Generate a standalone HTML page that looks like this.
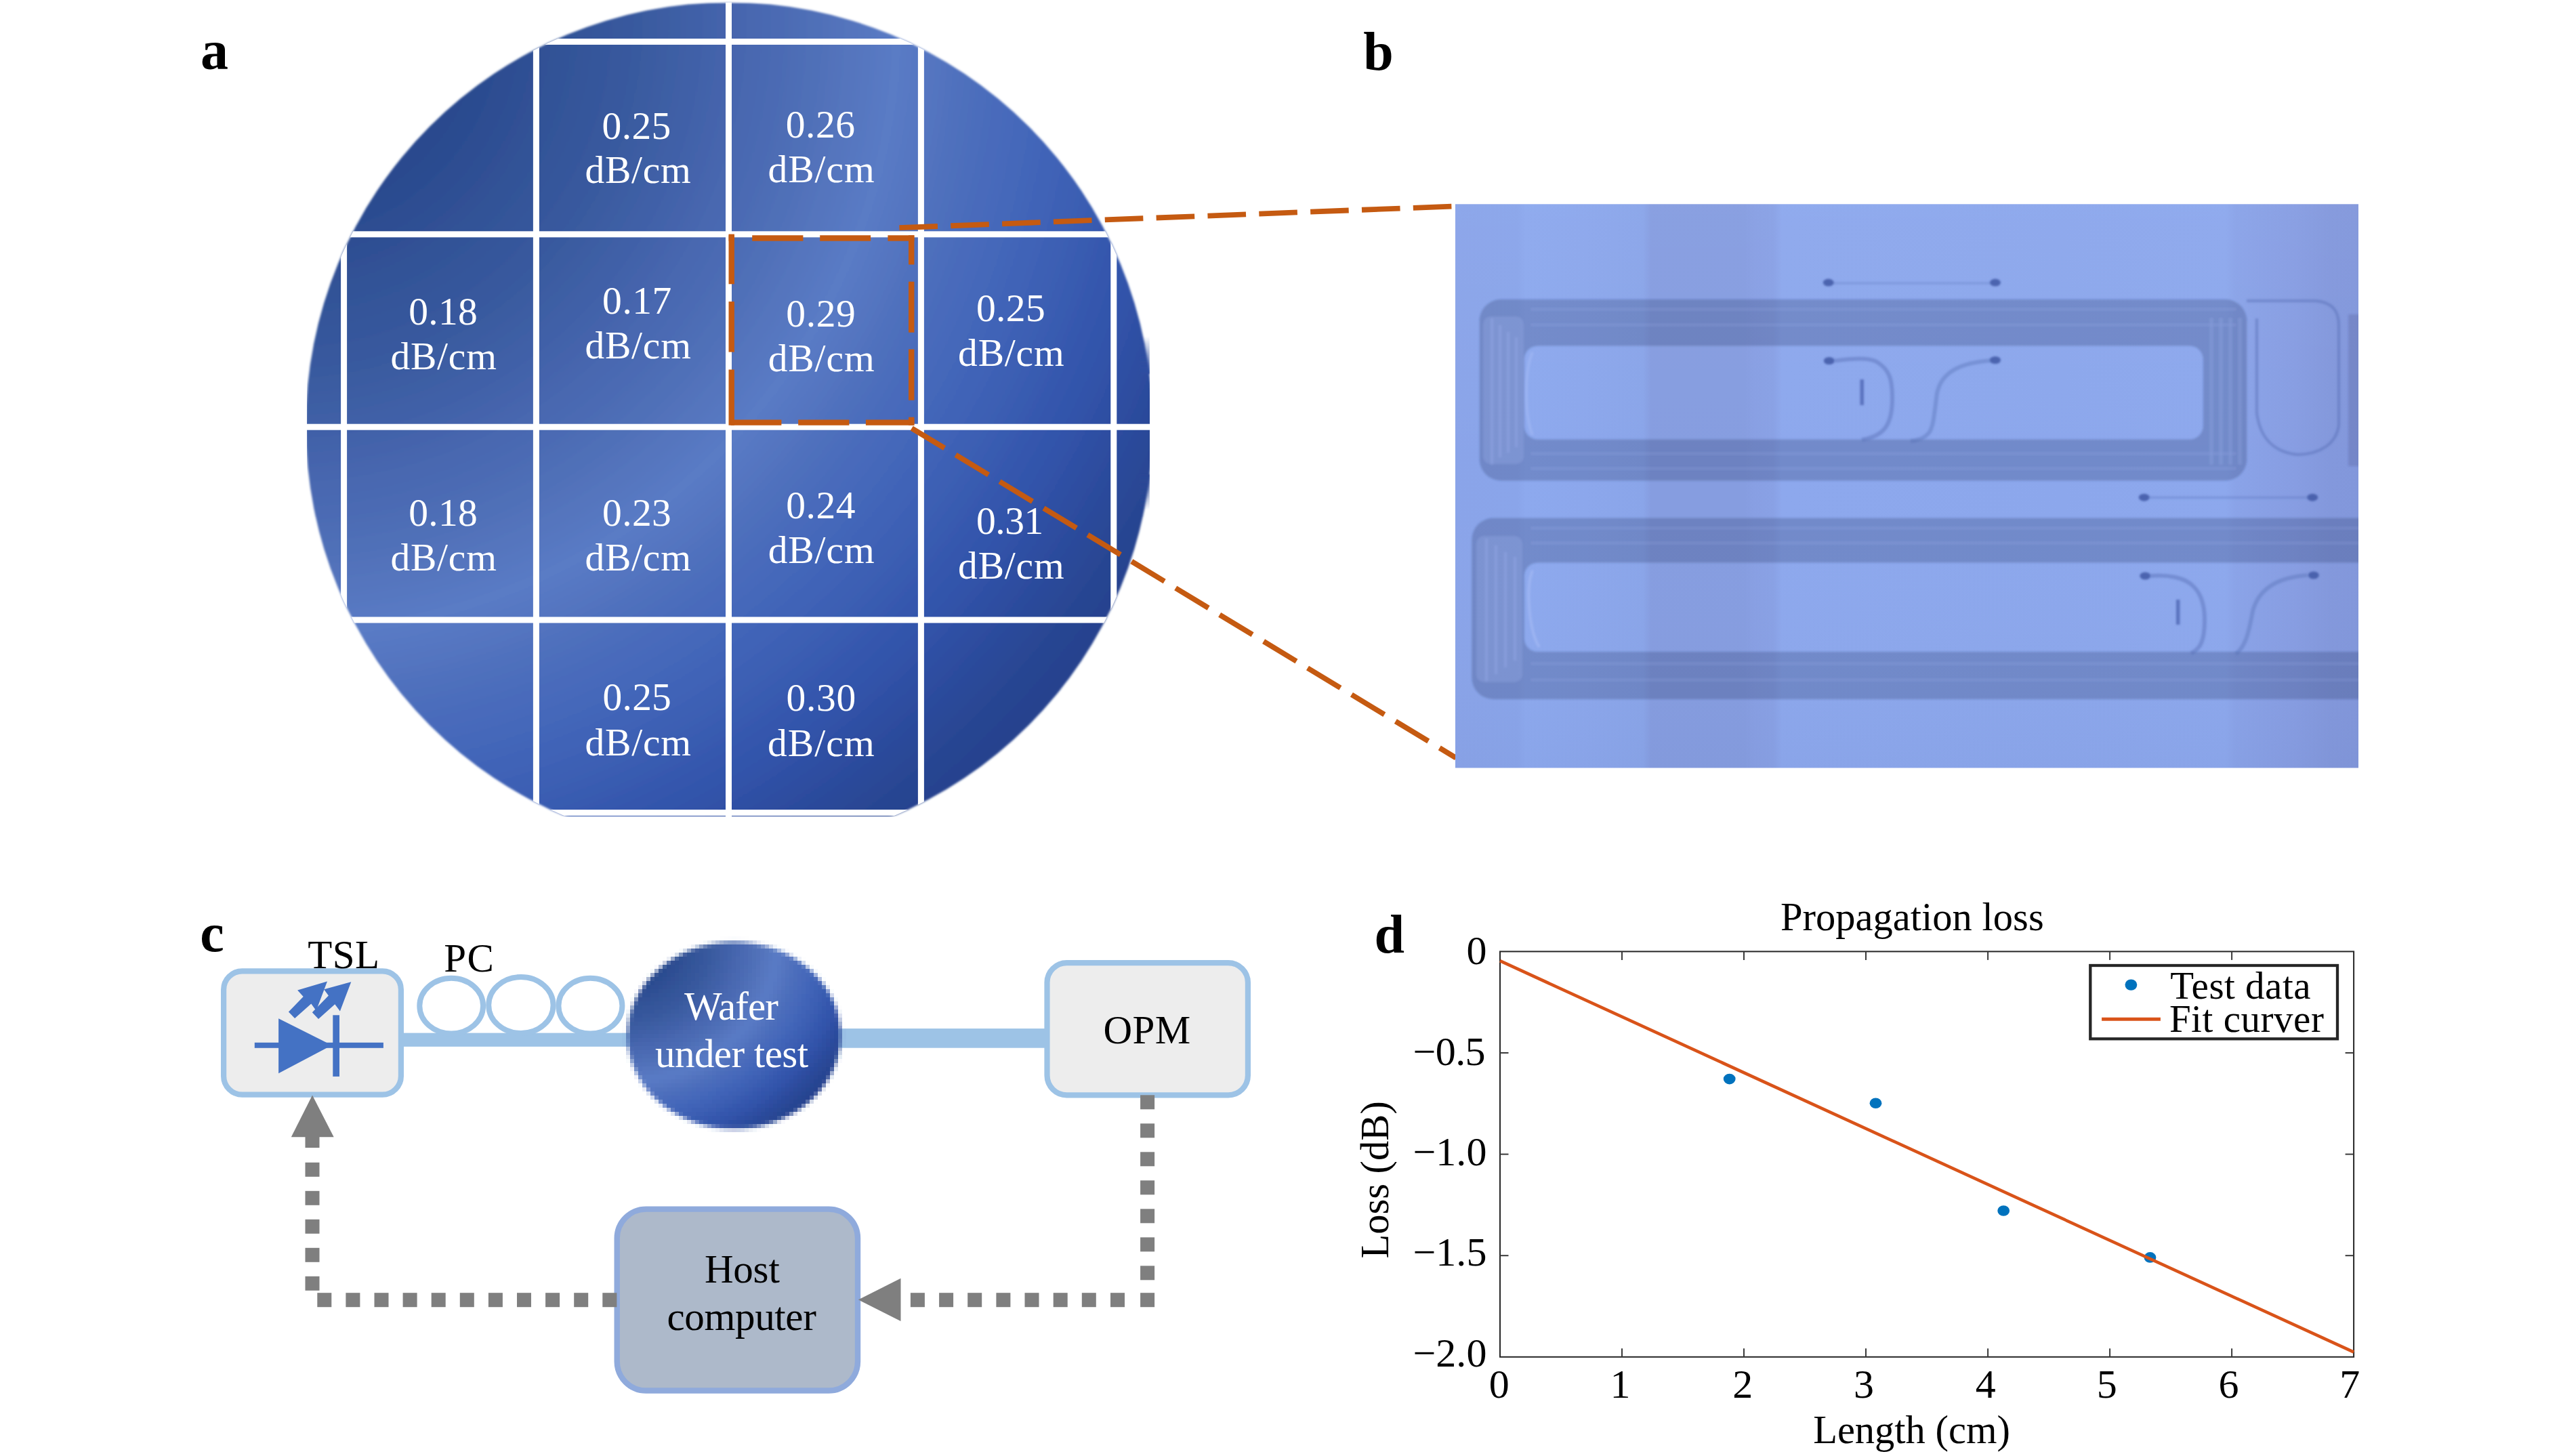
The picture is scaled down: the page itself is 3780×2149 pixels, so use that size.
<!DOCTYPE html>
<html><head><meta charset="utf-8"><title>Figure</title>
<style>
html,body{margin:0;padding:0;background:#fff;}
body{width:3780px;height:2149px;overflow:hidden;position:relative;font-family:"Liberation Serif", serif;}
svg{position:absolute;left:0;top:0;display:block;}
text{font-family:"Liberation Serif", serif;font-kerning:normal;font-variant-ligatures:none;white-space:pre;}
</style></head><body>
<svg width="3780" height="2149" viewBox="0 0 3780 2149">
<defs>
<clipPath id="wclip"><rect x="453" y="0" width="1244" height="1205"/></clipPath>
<clipPath id="wcirc"><circle cx="1076.3" cy="628.5" r="625"/></clipPath>
<radialGradient id="wg" gradientUnits="userSpaceOnUse" cx="420" cy="30" r="1500">
<stop offset="0" stop-color="#27468a"/>
<stop offset="0.19" stop-color="#2a4a8e"/>
<stop offset="0.35" stop-color="#395a9f"/>
<stop offset="0.46" stop-color="#4867b0"/>
<stop offset="0.527" stop-color="#5070b8"/>
<stop offset="0.603" stop-color="#5a7bc5"/>
<stop offset="0.673" stop-color="#4e6fbc"/>
<stop offset="0.727" stop-color="#4568ba"/>
<stop offset="0.773" stop-color="#3f62b6"/>
<stop offset="0.867" stop-color="#3153aa"/>
<stop offset="0.967" stop-color="#284592"/>
<stop offset="1" stop-color="#26428e"/>
</radialGradient>
<radialGradient id="swg" gradientUnits="userSpaceOnUse" cx="420" cy="30" r="1500" gradientTransform="translate(1083.5,1528.2) scale(0.2529,0.223) translate(-1076.5,-629)">
<stop offset="0" stop-color="#27468a"/>
<stop offset="0.19" stop-color="#2a4a8e"/>
<stop offset="0.35" stop-color="#395a9f"/>
<stop offset="0.46" stop-color="#4867b0"/>
<stop offset="0.527" stop-color="#5070b8"/>
<stop offset="0.603" stop-color="#5a7bc5"/>
<stop offset="0.673" stop-color="#4e6fbc"/>
<stop offset="0.727" stop-color="#4568ba"/>
<stop offset="0.773" stop-color="#3f62b6"/>
<stop offset="0.867" stop-color="#3153aa"/>
<stop offset="0.967" stop-color="#284592"/>
<stop offset="1" stop-color="#26428e"/>
</radialGradient>
<filter id="pix" filterUnits="userSpaceOnUse" x="900" y="1370" width="372" height="318" primitiveUnits="userSpaceOnUse" color-interpolation-filters="sRGB">
<feFlood x="903" y="1373" width="1" height="1" flood-color="#000"/>
<feComposite width="6" height="6" x="900" y="1370"/>
<feTile result="grid"/>
<feComposite in="SourceGraphic" in2="grid" operator="in"/>
<feMorphology operator="dilate" radius="3"/>
<feGaussianBlur stdDeviation="0.7"/>
</filter>
<filter id="blur1" x="-5%" y="-5%" width="110%" height="110%"><feGaussianBlur stdDeviation="1.1"/></filter>
<filter id="blur2" x="-5%" y="-5%" width="110%" height="110%"><feGaussianBlur stdDeviation="1.6"/></filter>
<filter id="blur3" x="-5%" y="-5%" width="110%" height="110%"><feGaussianBlur stdDeviation="2.5"/></filter>
<filter id="blur6" x="-5%" y="-5%" width="110%" height="110%"><feGaussianBlur stdDeviation="5"/></filter>
<linearGradient id="bg_b" gradientUnits="userSpaceOnUse" x1="2148" y1="0" x2="3481" y2="0">
<stop offset="0" stop-color="#8ba6ec"/>
<stop offset="0.2" stop-color="#8aa5e9"/>
<stop offset="0.36" stop-color="#859fe0"/>
<stop offset="0.5" stop-color="#869fe0"/>
<stop offset="0.56" stop-color="#8ba8ee"/>
<stop offset="0.85" stop-color="#8da9ef"/>
<stop offset="0.93" stop-color="#87a1e3"/>
<stop offset="1" stop-color="#8ba4e8"/>
</linearGradient>
</defs>

<!-- panel a -->
<text x="296.10" y="102.10" font-size="82" fill="#000" letter-spacing="0.000" font-weight="bold">a</text>
<g clip-path="url(#wclip)">
<circle cx="1076.3" cy="628.5" r="625" fill="url(#wg)" filter="url(#blur2)"/>
<g clip-path="url(#wcirc)">
<rect x="503.1" y="341.3" width="9" height="578.2" fill="#fff"/>
<rect x="786.9" y="57.0" width="9" height="1147.0" fill="#fff"/>
<rect x="1071.0" y="0" width="9" height="1205" fill="#fff"/>
<rect x="1354.9" y="57.0" width="9" height="1147.0" fill="#fff"/>
<rect x="1639.3" y="341.3" width="9" height="578.2" fill="#fff"/>
<rect x="791.4" y="57.0" width="568.0000000000001" height="9" fill="#fff"/>
<rect x="507.6" y="341.3" width="1136.1999999999998" height="9" fill="#fff"/>
<rect x="453" y="625.7" width="1244" height="9" fill="#fff"/>
<rect x="507.6" y="910.5" width="1136.1999999999998" height="9" fill="#fff"/>
<rect x="791.4" y="1195.0" width="568.0000000000001" height="9" fill="#fff"/>
</g>
<linearGradient id="smr" x1="0" y1="0" x2="0" y2="1"><stop offset="0" stop-color="#2e4da1" stop-opacity="0"/><stop offset="1" stop-color="#2e4da1" stop-opacity="1"/></linearGradient>
<linearGradient id="smr2" x1="0" y1="0" x2="0" y2="1"><stop offset="0" stop-color="#2a4896" stop-opacity="1"/><stop offset="1" stop-color="#2a4896" stop-opacity="0"/></linearGradient>
<linearGradient id="topf" x1="0" y1="0" x2="0" y2="1"><stop offset="0" stop-color="#fff" stop-opacity="0.85"/><stop offset="1" stop-color="#fff" stop-opacity="0"/></linearGradient>
<rect x="990" y="0" width="175" height="6" fill="url(#topf)"/>
<rect x="1682" y="497" width="15" height="55" fill="url(#smr)" filter="url(#blur1)"/>
<rect x="1682" y="700" width="15" height="52" fill="url(#smr2)" filter="url(#blur1)"/>
</g>
<text x="888.60" y="204.70" font-size="57.5" fill="#fff" letter-spacing="0.375">0.25</text>
<text x="863.50" y="270.40" font-size="57.5" fill="#fff" letter-spacing="0.700">dB/cm</text>
<text x="1159.70" y="203.20" font-size="57.5" fill="#fff" letter-spacing="0.575">0.26</text>
<text x="1133.60" y="269.30" font-size="57.5" fill="#fff" letter-spacing="0.950">dB/cm</text>
<text x="603.20" y="479.00" font-size="57.5" fill="#fff" letter-spacing="0.342">0.18</text>
<text x="576.40" y="544.70" font-size="57.5" fill="#fff" letter-spacing="0.800">dB/cm</text>
<text x="889.10" y="463.30" font-size="57.5" fill="#fff" letter-spacing="0.542">0.17</text>
<text x="863.40" y="529.00" font-size="57.5" fill="#fff" letter-spacing="0.800">dB/cm</text>
<text x="1160.30" y="481.80" font-size="57.5" fill="#fff" letter-spacing="0.608">0.29</text>
<text x="1133.70" y="547.70" font-size="57.5" fill="#fff" letter-spacing="0.900">dB/cm</text>
<text x="1441.00" y="473.60" font-size="57.5" fill="#fff" letter-spacing="0.342">0.25</text>
<text x="1414.10" y="540.00" font-size="57.5" fill="#fff" letter-spacing="0.800">dB/cm</text>
<text x="603.20" y="775.50" font-size="57.5" fill="#fff" letter-spacing="0.342">0.18</text>
<text x="576.40" y="841.60" font-size="57.5" fill="#fff" letter-spacing="0.800">dB/cm</text>
<text x="889.10" y="775.50" font-size="57.5" fill="#fff" letter-spacing="0.342">0.23</text>
<text x="863.40" y="841.60" font-size="57.5" fill="#fff" letter-spacing="0.800">dB/cm</text>
<text x="1160.30" y="765.40" font-size="57.5" fill="#fff" letter-spacing="0.508">0.24</text>
<text x="1133.70" y="831.30" font-size="57.5" fill="#fff" letter-spacing="0.900">dB/cm</text>
<text x="1441.00" y="788.40" font-size="57.5" fill="#fff" letter-spacing="-0.425">0.31</text>
<text x="1414.10" y="854.10" font-size="57.5" fill="#fff" letter-spacing="0.800">dB/cm</text>
<text x="889.60" y="1048.00" font-size="57.5" fill="#fff" letter-spacing="0.208">0.25</text>
<text x="863.50" y="1114.60" font-size="57.5" fill="#fff" letter-spacing="0.800">dB/cm</text>
<text x="1160.50" y="1048.90" font-size="57.5" fill="#fff" letter-spacing="0.708">0.30</text>
<text x="1132.90" y="1116.00" font-size="57.5" fill="#fff" letter-spacing="1.100">dB/cm</text>
<line x1="1079.7" y1="345.6" x2="1079.7" y2="419.3" stroke="#c55a11" stroke-width="8.4"/>
<line x1="1079.7" y1="445.1" x2="1079.7" y2="519.6" stroke="#c55a11" stroke-width="8.4"/>
<line x1="1079.7" y1="545.5" x2="1079.7" y2="627.7" stroke="#c55a11" stroke-width="8.4"/>
<line x1="1075.6" y1="351.5" x2="1084.0" y2="351.5" stroke="#c55a11" stroke-width="8.4"/>
<line x1="1110.2" y1="351.5" x2="1185.4" y2="351.5" stroke="#c55a11" stroke-width="8.4"/>
<line x1="1210.2" y1="351.5" x2="1285.1" y2="351.5" stroke="#c55a11" stroke-width="8.4"/>
<line x1="1310.4" y1="351.5" x2="1349.4" y2="351.5" stroke="#c55a11" stroke-width="8.4"/>
<line x1="1345.2" y1="347.3" x2="1345.2" y2="390.5" stroke="#c55a11" stroke-width="8.4"/>
<line x1="1345.2" y1="415.7" x2="1345.2" y2="490.7" stroke="#c55a11" stroke-width="8.4"/>
<line x1="1345.2" y1="515.5" x2="1345.2" y2="590.7" stroke="#c55a11" stroke-width="8.4"/>
<line x1="1345.2" y1="615.7" x2="1345.2" y2="627.7" stroke="#c55a11" stroke-width="8.4"/>
<line x1="1078.5" y1="623.6" x2="1153.4" y2="623.6" stroke="#c55a11" stroke-width="8.4"/>
<line x1="1178.2" y1="623.6" x2="1253.4" y2="623.6" stroke="#c55a11" stroke-width="8.4"/>
<line x1="1277.9" y1="623.6" x2="1349.4" y2="623.6" stroke="#c55a11" stroke-width="8.4"/>
<line x1="1327.4" y1="336.2" x2="2146" y2="304.5" stroke="#c55a11" stroke-width="7.8" stroke-dasharray="56.6 19.3"/>
<line x1="1345.7" y1="632.1" x2="2149" y2="1118.6" stroke="#c55a11" stroke-width="7.8" stroke-dasharray="56.6 19.3"/>
<!-- panel b -->
<text x="2012.30" y="102.70" font-size="80" fill="#000" letter-spacing="0.000" font-weight="bold">b</text>
<clipPath id="bclip"><rect x="2148.0" y="301.3" width="1333.0" height="832.1000000000001"/></clipPath>
<linearGradient id="bgb2" gradientUnits="userSpaceOnUse" x1="2148" y1="0" x2="3481" y2="0"><stop offset="0.0000" stop-color="#8aa4e9"/><stop offset="0.0690" stop-color="#8aa5ea"/><stop offset="0.0780" stop-color="#8da9ee"/><stop offset="0.1440" stop-color="#8ca7ec"/><stop offset="0.2078" stop-color="#8aa5e9"/><stop offset="0.2168" stop-color="#869de0"/><stop offset="0.3203" stop-color="#869de0"/><stop offset="0.3301" stop-color="#889fe3"/><stop offset="0.3526" stop-color="#89a1e5"/><stop offset="0.3616" stop-color="#8da8ed"/><stop offset="0.6692" stop-color="#8ca7ec"/><stop offset="0.8530" stop-color="#8da8ed"/><stop offset="0.8642" stop-color="#8aa3e8"/><stop offset="0.9302" stop-color="#879de2"/><stop offset="0.9692" stop-color="#8398dc"/><stop offset="1.0000" stop-color="#8297db"/></linearGradient>
<linearGradient id="bgv" x1="0" y1="0" x2="0" y2="1"><stop offset="0" stop-color="#fff" stop-opacity="0.03"/><stop offset="0.5" stop-color="#fff" stop-opacity="0"/><stop offset="1" stop-color="#203060" stop-opacity="0.03"/></linearGradient>
<rect x="2148.0" y="301.3" width="1333.0" height="832.1000000000001" fill="url(#bgb2)"/>
<rect x="2148.0" y="301.3" width="1333.0" height="832.1000000000001" fill="url(#bgv)"/>
<g clip-path="url(#bclip)">
<g filter="url(#blur2)">
<path fill="rgba(38,48,100,0.25)" fill-rule="evenodd" d="M2215.6,441.7 H3284.4 A32,32 0 0 1 3316.4,473.7 V677.5 A32,32 0 0 1 3284.4,709.5 H2215.6 A32,32 0 0 1 2183.6,677.5 V473.7 A32,32 0 0 1 2215.6,441.7 Z M2269.7,510.5 H3231.8 A20,20 0 0 1 3251.8,530.5 V628.5 A20,20 0 0 1 3231.8,648.5 H2269.7 A20,20 0 0 1 2249.7,628.5 V530.5 A20,20 0 0 1 2269.7,510.5 Z "/>
<path fill="rgba(38,48,100,0.25)" fill-rule="evenodd" d="M2204.3,764.5 H3568 A32,32 0 0 1 3600,796.5 V1000.0 A32,32 0 0 1 3568,1032.0 H2204.3 A32,32 0 0 1 2172.3,1000.0 V796.5 A32,32 0 0 1 2204.3,764.5 Z M2269.7,830.5 H3580 A20,20 0 0 1 3600,850.5 V942 A20,20 0 0 1 3580,962 H2269.7 A20,20 0 0 1 2249.7,942 V850.5 A20,20 0 0 1 2269.7,830.5 Z "/>
<rect x="2190" y="468" width="58" height="216" rx="10" fill="#a9c0f6" opacity="0.22"/>
<rect x="2180" y="792" width="66" height="214" rx="10" fill="#a9c0f6" opacity="0.22"/>
<rect x="2200" y="470" width="4" height="215" fill="#9db4f0" opacity="0.30"/>
<rect x="2212" y="480" width="4" height="195" fill="#9db4f0" opacity="0.30"/>
<rect x="2224" y="490" width="4" height="178" fill="#9db4f0" opacity="0.30"/>
<rect x="2236" y="498" width="4" height="162" fill="#9db4f0" opacity="0.30"/>
<rect x="2192" y="795" width="4" height="210" fill="#9db4f0" opacity="0.30"/>
<rect x="2206" y="805" width="4" height="190" fill="#9db4f0" opacity="0.30"/>
<rect x="2220" y="815" width="4" height="170" fill="#9db4f0" opacity="0.30"/>
<rect x="2234" y="822" width="4" height="153" fill="#9db4f0" opacity="0.30"/>
<rect x="3262" y="470" width="4" height="215" fill="#9db4f0" opacity="0.22"/>
<rect x="3276" y="470" width="4" height="215" fill="#9db4f0" opacity="0.22"/>
<rect x="3290" y="470" width="4" height="215" fill="#9db4f0" opacity="0.22"/>
<rect x="3304" y="470" width="4" height="215" fill="#9db4f0" opacity="0.22"/>
<rect x="2260" y="455" width="1040" height="3" fill="#9db4f0" opacity="0.16"/>
<rect x="2260" y="478" width="1040" height="3" fill="#9db4f0" opacity="0.16"/>
<rect x="2260" y="668" width="1040" height="3" fill="#9db4f0" opacity="0.16"/>
<rect x="2260" y="690" width="1040" height="3" fill="#9db4f0" opacity="0.16"/>
<rect x="2260" y="778" width="1240" height="3" fill="#9db4f0" opacity="0.16"/>
<rect x="2260" y="800" width="1240" height="3" fill="#9db4f0" opacity="0.16"/>
<rect x="2260" y="978" width="1240" height="3" fill="#9db4f0" opacity="0.16"/>
<rect x="2260" y="1002" width="1240" height="3" fill="#9db4f0" opacity="0.16"/>
<rect x="3466" y="464" width="20" height="224" fill="rgba(38,48,100,0.16)"/>
</g>
<g filter="url(#blur2)" fill="none" stroke="#5068b0" stroke-opacity="0.42" stroke-width="6">
<path d="M2262,520 C2250,545 2250,615 2262,642" stroke="#a4baf4" stroke-opacity="0.55" stroke-width="4"/>
<path d="M2262,842 C2252,865 2256,930 2272,955" stroke="#a4baf4" stroke-opacity="0.65" stroke-width="4"/>
<path d="M3316,444 H3418 C3442,446 3452,458 3452,480 V628 C3448,655 3425,670 3392,671 C3358,668 3336,648 3331,610 V470" stroke-opacity="0.42" stroke-width="4.5"/>
<path d="M2704,418 H2940" stroke-opacity="0.22" stroke-width="4"/>
<path d="M2708,532.5 C2740,528 2760,528 2770,534 C2790,546 2793,562 2793,588 C2793,628 2780,644 2748,649"/>
<path d="M2940,532 C2895,535 2866,548 2859,580 C2855,610 2854,632 2846,640 C2840,647 2832,650 2820,651" stroke-opacity="0.36"/>
<path d="M2748.2,560 V598" stroke="#4a62b0" stroke-opacity="0.75" stroke-width="5.5"/>
<path d="M3172,734.2 H3406" stroke-opacity="0.26" stroke-width="4"/>
<path d="M3174,850 C3200,848 3225,852 3238,866 C3252,880 3254,900 3254,915 C3254,945 3248,958 3234,964"/>
<path d="M3406,849 C3362,852 3334,868 3325,902 C3319,935 3314,955 3300,965" stroke-opacity="0.36"/>
<path d="M3214.7,885 V922" stroke="#4a62b0" stroke-opacity="0.75" stroke-width="5.5"/>
</g>
<g filter="url(#blur2)" fill="#4058a4" fill-opacity="0.85">
<ellipse cx="2698.7" cy="417.1" rx="8" ry="5.5"/>
<ellipse cx="2945" cy="417.1" rx="8" ry="5.5"/>
<ellipse cx="2699.8" cy="532.5" rx="8" ry="5.5"/>
<ellipse cx="2945" cy="531.5" rx="8" ry="5.5"/>
<ellipse cx="3164.7" cy="734.2" rx="8" ry="5.5"/>
<ellipse cx="3413.2" cy="734.2" rx="8" ry="5.5"/>
<ellipse cx="3166.3" cy="850" rx="8" ry="5.5"/>
<ellipse cx="3414.8" cy="849" rx="8" ry="5.5"/>
</g>
</g>
<!-- panel c -->
<text x="295.20" y="1404.00" font-size="80" fill="#000" letter-spacing="0.000" font-weight="bold">c</text>
<rect x="592" y="1524.6" width="345" height="20.2" fill="#9dc3e6"/>
<rect x="1230" y="1518.1" width="316" height="28.6" fill="#9dc3e6"/>
<ellipse cx="666.2" cy="1484.6" rx="46.9" ry="40.9" fill="#fff" stroke="#9dc3e6" stroke-width="8"/>
<ellipse cx="768.9" cy="1483.5" rx="47.7" ry="41.5" fill="#fff" stroke="#9dc3e6" stroke-width="8"/>
<ellipse cx="871.4" cy="1484.6" rx="47.0" ry="40.9" fill="#fff" stroke="#9dc3e6" stroke-width="8"/>
<rect x="330.1" y="1433.4" width="261.8" height="182.2" rx="27.4" ry="27.4" fill="#ededed" stroke="#9dc3e6" stroke-width="8.2"/>
<rect x="1545.5" y="1421.1" width="296.4" height="195.2" rx="29" ry="29" fill="#ededed" stroke="#9dc3e6" stroke-width="8.2"/>
<rect x="910.7" y="1784.6" width="355.3" height="267.9" rx="43" ry="43" fill="#adb9ca" stroke="#8faadc" stroke-width="8.4"/>
<g filter="url(#pix)"><ellipse cx="1083.5" cy="1528.2" rx="157.0" ry="137.6" fill="url(#swg)" filter="url(#blur3)"/></g>
<rect x="375.8" y="1538.8" width="190.1" height="8" fill="#4472c4"/>
<polygon points="411.1,1503.2 411.1,1584.2 489.8,1542.8" fill="#4472c4"/>
<rect x="491.3" y="1498.3" width="9.7" height="90.6" fill="#4472c4"/>
<polygon points="425.9,1493.4 447.7,1471.0 439.1,1461.5 483.0,1448.5 466.7,1491.8 459.3,1481.5 435.1,1503.0" fill="#4472c4"/>
<polygon points="460.8,1494.3 484.9,1469.4 478.1,1460.3 518.3,1449.2 501.9,1492.4 494.3,1482.2 470.0,1503.9" fill="#4472c4"/>
<polygon points="461,1616.5 429.8,1678.3 492.7,1678.3" fill="#7f7f7f"/>
<rect x="450.5" y="1678" width="21.0" height="16" fill="#7f7f7f"/>
<rect x="450.5" y="1715.8" width="21.0" height="21.0" fill="#7f7f7f"/>
<rect x="450.5" y="1757.8" width="21.0" height="21.0" fill="#7f7f7f"/>
<rect x="450.5" y="1799.8" width="21.0" height="21.0" fill="#7f7f7f"/>
<rect x="450.5" y="1841.8" width="21.0" height="21.0" fill="#7f7f7f"/>
<rect x="450.5" y="1883.8" width="21.0" height="21.0" fill="#7f7f7f"/>
<rect x="468.3" y="1908.2" width="21.0" height="21.0" fill="#7f7f7f"/>
<rect x="510.4" y="1908.2" width="21.0" height="21.0" fill="#7f7f7f"/>
<rect x="552.5" y="1908.2" width="21.0" height="21.0" fill="#7f7f7f"/>
<rect x="594.6" y="1908.2" width="21.0" height="21.0" fill="#7f7f7f"/>
<rect x="636.7" y="1908.2" width="21.0" height="21.0" fill="#7f7f7f"/>
<rect x="678.8" y="1908.2" width="21.0" height="21.0" fill="#7f7f7f"/>
<rect x="720.9" y="1908.2" width="21.0" height="21.0" fill="#7f7f7f"/>
<rect x="763.0" y="1908.2" width="21.0" height="21.0" fill="#7f7f7f"/>
<rect x="805.1" y="1908.2" width="21.0" height="21.0" fill="#7f7f7f"/>
<rect x="847.2" y="1908.2" width="21.0" height="21.0" fill="#7f7f7f"/>
<rect x="889.3" y="1908.2" width="21.1" height="21.0" fill="#7f7f7f"/>
<rect x="1683.1" y="1616.3" width="21.0" height="21.0" fill="#7f7f7f"/>
<rect x="1683.1" y="1658.3" width="21.0" height="21.0" fill="#7f7f7f"/>
<rect x="1683.1" y="1700.3" width="21.0" height="21.0" fill="#7f7f7f"/>
<rect x="1683.1" y="1742.3" width="21.0" height="21.0" fill="#7f7f7f"/>
<rect x="1683.1" y="1784.3" width="21.0" height="21.0" fill="#7f7f7f"/>
<rect x="1683.1" y="1826.3" width="21.0" height="21.0" fill="#7f7f7f"/>
<rect x="1683.1" y="1868.3" width="21.0" height="21.0" fill="#7f7f7f"/>
<rect x="1683.1" y="1908.2" width="21.0" height="21.0" fill="#7f7f7f"/>
<rect x="1343.9" y="1908.2" width="21.0" height="21.0" fill="#7f7f7f"/>
<rect x="1386.1" y="1908.2" width="21.0" height="21.0" fill="#7f7f7f"/>
<rect x="1428.2" y="1908.2" width="21.0" height="21.0" fill="#7f7f7f"/>
<rect x="1470.4" y="1908.2" width="21.0" height="21.0" fill="#7f7f7f"/>
<rect x="1512.5" y="1908.2" width="21.0" height="21.0" fill="#7f7f7f"/>
<rect x="1554.7" y="1908.2" width="21.0" height="21.0" fill="#7f7f7f"/>
<rect x="1596.8" y="1908.2" width="21.0" height="21.0" fill="#7f7f7f"/>
<rect x="1639.0" y="1908.2" width="21.0" height="21.0" fill="#7f7f7f"/>
<polygon points="1266.8,1918.3 1329.5,1886.7 1329.5,1950" fill="#7f7f7f"/>
<text x="454.30" y="1428.80" font-size="59" fill="#000" letter-spacing="0.373">TSL</text>
<text x="655.20" y="1434.00" font-size="59" fill="#000" letter-spacing="1.588">PC</text>
<text x="1009.90" y="1504.80" font-size="59" fill="#fff" letter-spacing="-0.896">Wafer</text>
<text x="967.00" y="1574.60" font-size="59" fill="#fff" letter-spacing="-0.547">under test</text>
<text x="1628.40" y="1539.50" font-size="59" fill="#000" letter-spacing="0.440">OPM</text>
<text x="1039.90" y="1893.00" font-size="59" fill="#000" letter-spacing="-0.189">Host</text>
<text x="984.50" y="1962.70" font-size="59" fill="#000" letter-spacing="-0.351">computer</text>
<!-- panel d -->
<text x="2028.40" y="1405.60" font-size="80" fill="#000" letter-spacing="0.000" font-weight="bold">d</text>
<rect x="2214.0" y="1404.4" width="1260.1" height="598.3999999999999" fill="#fff" stroke="#262626" stroke-width="2"/>
<text x="2197.80" y="2063.00" font-size="60" fill="#000" letter-spacing="0.000">0</text>
<line x1="2394.0" y1="2002.8" x2="2394.0" y2="1990.3" stroke="#3a3a3a" stroke-width="2"/>
<line x1="2394.0" y1="1404.4" x2="2394.0" y2="1416.9" stroke="#3a3a3a" stroke-width="2"/>
<text x="2376.45" y="2063.00" font-size="60" fill="#000" letter-spacing="0.000">1</text>
<line x1="2574.0" y1="2002.8" x2="2574.0" y2="1990.3" stroke="#3a3a3a" stroke-width="2"/>
<line x1="2574.0" y1="1404.4" x2="2574.0" y2="1416.9" stroke="#3a3a3a" stroke-width="2"/>
<text x="2557.15" y="2063.00" font-size="60" fill="#000" letter-spacing="0.000">2</text>
<line x1="2754.0" y1="2002.8" x2="2754.0" y2="1990.3" stroke="#3a3a3a" stroke-width="2"/>
<line x1="2754.0" y1="1404.4" x2="2754.0" y2="1416.9" stroke="#3a3a3a" stroke-width="2"/>
<text x="2736.00" y="2063.00" font-size="60" fill="#000" letter-spacing="0.000">3</text>
<line x1="2934.1" y1="2002.8" x2="2934.1" y2="1990.3" stroke="#3a3a3a" stroke-width="2"/>
<line x1="2934.1" y1="1404.4" x2="2934.1" y2="1416.9" stroke="#3a3a3a" stroke-width="2"/>
<text x="2915.65" y="2063.00" font-size="60" fill="#000" letter-spacing="0.000">4</text>
<line x1="3114.1" y1="2002.8" x2="3114.1" y2="1990.3" stroke="#3a3a3a" stroke-width="2"/>
<line x1="3114.1" y1="1404.4" x2="3114.1" y2="1416.9" stroke="#3a3a3a" stroke-width="2"/>
<text x="3094.70" y="2063.00" font-size="60" fill="#000" letter-spacing="0.000">5</text>
<line x1="3294.1" y1="2002.8" x2="3294.1" y2="1990.3" stroke="#3a3a3a" stroke-width="2"/>
<line x1="3294.1" y1="1404.4" x2="3294.1" y2="1416.9" stroke="#3a3a3a" stroke-width="2"/>
<text x="3274.40" y="2063.00" font-size="60" fill="#000" letter-spacing="0.000">6</text>
<text x="3453.15" y="2063.00" font-size="60" fill="#000" letter-spacing="0.000">7</text>
<text x="2164.60" y="1423.30" font-size="60" fill="#000" letter-spacing="0.000">0</text>
<line x1="2214.0" y1="1554.0" x2="2226.5" y2="1554.0" stroke="#3a3a3a" stroke-width="2"/>
<line x1="3474.1" y1="1554.0" x2="3461.6" y2="1554.0" stroke="#3a3a3a" stroke-width="2"/>
<text x="2085.40" y="1571.70" font-size="60" fill="#000" letter-spacing="-0.546">−0.5</text>
<line x1="2214.0" y1="1703.6" x2="2226.5" y2="1703.6" stroke="#3a3a3a" stroke-width="2"/>
<line x1="3474.1" y1="1703.6" x2="3461.6" y2="1703.6" stroke="#3a3a3a" stroke-width="2"/>
<text x="2085.40" y="1719.60" font-size="60" fill="#000" letter-spacing="0.054">−1.0</text>
<line x1="2214.0" y1="1853.2" x2="2226.5" y2="1853.2" stroke="#3a3a3a" stroke-width="2"/>
<line x1="3474.1" y1="1853.2" x2="3461.6" y2="1853.2" stroke="#3a3a3a" stroke-width="2"/>
<text x="2085.40" y="1868.00" font-size="60" fill="#000" letter-spacing="0.054">−1.5</text>
<text x="2085.40" y="2016.50" font-size="60" fill="#000" letter-spacing="0.054">−2.0</text>
<text x="2627.90" y="1373.30" font-size="58.5" fill="#000" letter-spacing="0.027" style="font-kerning:none">Propagation loss</text>
<text x="2676.20" y="2130.30" font-size="58.5" fill="#000" letter-spacing="-0.008" style="font-kerning:none">Length (cm)</text>
<g transform="translate(2049.2,0) rotate(-90)">
<text x="-1857.50" y="0.00" font-size="58.5" fill="#000" letter-spacing="-0.024" style="font-kerning:none">Loss (dB)</text>
</g>
<ellipse cx="2552.7" cy="1592.6" rx="8.9" ry="7.8" fill="#0072bd"/>
<ellipse cx="2768.5" cy="1628.3" rx="8.9" ry="7.8" fill="#0072bd"/>
<ellipse cx="2957.2" cy="1787.0" rx="8.9" ry="7.8" fill="#0072bd"/>
<ellipse cx="3173.5" cy="1855.9" rx="8.9" ry="7.8" fill="#0072bd"/>
<line x1="2214" y1="1418.2" x2="3474.1" y2="1995.7" stroke="#d95319" stroke-width="4.6"/>
<rect x="3085.3" y="1425" width="364.7" height="108.3" fill="#fff" stroke="#262626" stroke-width="4.3"/>
<ellipse cx="3145.4" cy="1453.6" rx="8.9" ry="8.2" fill="#0072bd"/>
<line x1="3102.1" y1="1504.3" x2="3188.9" y2="1504.3" stroke="#d95319" stroke-width="5"/>
<text x="3203.30" y="1474.20" font-size="57" fill="#000" letter-spacing="0.482">Test data</text>
<text x="3201.90" y="1523.20" font-size="57" fill="#000" letter-spacing="0.533" style="font-kerning:none">Fit curver</text>
</svg></body></html>
